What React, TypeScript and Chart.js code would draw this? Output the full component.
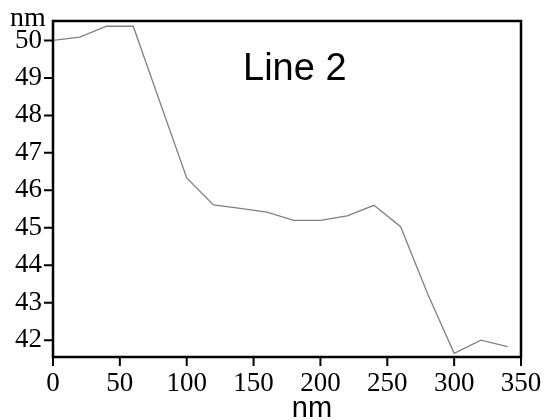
import React, { useEffect, useRef } from "react";
import { Chart, registerables } from "chart.js";

Chart.register(...registerables);

const positions = [0, 20, 40, 60, 80, 100, 120, 140, 160, 180, 200, 220, 240, 260, 280, 300, 320, 340];
const heights = [50.0, 50.09, 50.38, 50.38, 48.35, 46.33, 45.61, 45.52, 45.42, 45.2, 45.2, 45.32, 45.6, 45.03, 43.25, 41.65, 42.0, 41.83];
const xTickValues = [0, 50, 100, 150, 200, 250, 300, 350];
const yTickValues = [42, 43, 44, 45, 46, 47, 48, 49, 50];
const plotTitle = "Line 2";
const xAxisTitle = "nm";
const yAxisTitle = "nm";

const SERIF = '"Liberation Serif", "Times New Roman", serif';
const SANS = '"Liberation Sans", Arial, sans-serif';
const TICK_LEN = 9;

const overlay = {
  id: "overlay",
  afterDraw(chart: any) {
    const { ctx, chartArea: a } = chart;
    const xs = chart.scales.x;
    const ys = chart.scales.y;
    ctx.save();
    // tick marks, outside the frame
    ctx.strokeStyle = "#000";
    ctx.lineWidth = 2;
    ctx.beginPath();
    xTickValues.forEach((v) => {
      const px = xs.getPixelForValue(v);
      ctx.moveTo(px, a.bottom);
      ctx.lineTo(px, a.bottom + TICK_LEN);
    });
    yTickValues.forEach((v) => {
      const py = ys.getPixelForValue(v);
      ctx.moveTo(a.left, py);
      ctx.lineTo(a.left - TICK_LEN, py);
    });
    ctx.stroke();
    // frame
    ctx.lineWidth = 2.5;
    ctx.strokeRect(a.left, a.top, a.right - a.left, a.bottom - a.top);
    // texts
    ctx.fillStyle = "#000";
    ctx.textBaseline = "alphabetic";
    ctx.textAlign = "left";
    ctx.font = `38px ${SANS}`;
    ctx.fillText(plotTitle, a.left + 190, a.top + 59);
    ctx.font = `28px ${SERIF}`;
    ctx.fillText(yAxisTitle, a.left - 43, a.top + 5);
    ctx.textAlign = "center";
    ctx.font = `29px ${SANS}`;
    ctx.fillText(xAxisTitle, a.left + 259, a.bottom + 60);
    ctx.restore();
  },
};

export default function App() {
  const ref = useRef<HTMLCanvasElement>(null);
  useEffect(() => {
    if (!ref.current) return;
    const chart = new Chart(ref.current, {
      type: "line",
      data: {
        datasets: [
          {
            data: positions.map((x, i) => ({ x, y: heights[i] })),
            borderColor: "#808080",
            borderWidth: 1.3,
            pointRadius: 0,
            tension: 0,
            fill: false,
          },
        ],
      },
      options: {
        animation: false,
        responsive: false,
        layout: { padding: { left: 0, top: 21, right: 23, bottom: 0 } },
        plugins: { legend: { display: false }, tooltip: { enabled: false } },
        scales: {
          x: {
            type: "linear",
            min: 0,
            max: 350,
            afterBuildTicks: (s: any) => {
              s.ticks = xTickValues.map((v) => ({ value: v }));
            },
            afterFit: (s: any) => {
              s.height = 63;
            },
            grid: { display: false, drawTicks: true, tickLength: TICK_LEN },
            border: { display: false },
            ticks: { color: "#000", font: { family: SERIF, size: 27 }, padding: 2, maxRotation: 0, autoSkip: false },
          },
          y: {
            type: "linear",
            min: 41.55,
            max: 50.52,
            afterBuildTicks: (s: any) => {
              s.ticks = yTickValues.map((v) => ({ value: v }));
            },
            afterFit: (s: any) => {
              s.width = 53;
            },
            grid: { display: false, drawTicks: true, tickLength: TICK_LEN },
            border: { display: false },
            ticks: { color: "#000", font: { family: SERIF, size: 27 }, padding: 2, autoSkip: false },
          },
        },
      },
      plugins: [overlay],
    });
    return () => chart.destroy();
  }, []);
  return (
    <div style={{ position: "fixed", left: 0, top: 0, width: 544, height: 420, background: "#fff" }}>
      <canvas ref={ref} width={544} height={420} style={{ width: 544, height: 420, display: "block" }} />
    </div>
  );
}
